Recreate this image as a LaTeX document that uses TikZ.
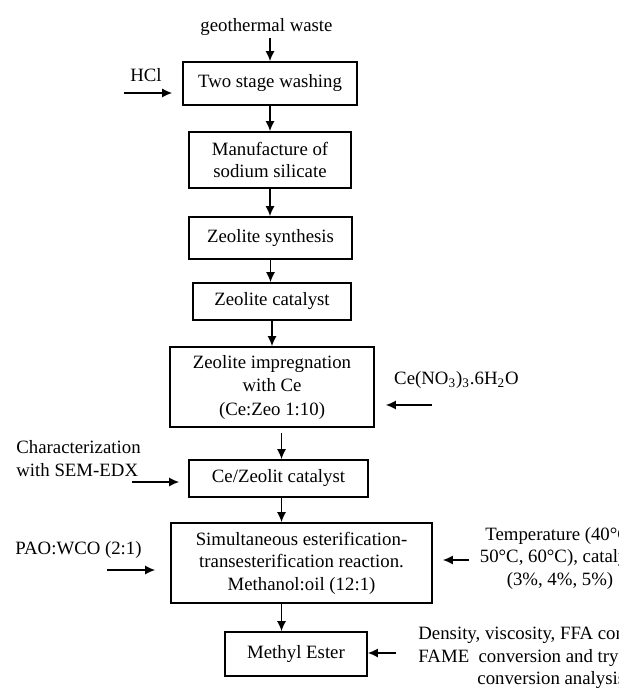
\documentclass[tikz,border=0pt]{standalone}
\usepackage{fontspec}
\setmainfont{Liberation Serif}
\usetikzlibrary{arrows.meta}

\tikzset{
  box/.style={draw, line width=0.8pt, inner sep=0pt, align=center},
  txt/.style={inner sep=1pt, align=center},
  arr/.style={line width=0.75pt, -{Latex[length=5pt,width=4.5pt]}}
}

\begin{document}
\begin{tikzpicture}[x=0.5pt, y=-0.5pt, every node/.style={font=\fontsize{9.4pt}{11.25pt}\selectfont}]
            \useasboundingbox (0,0) rectangle (618,688);
            \clip (0,0) rectangle (618,688);

            % main column
            \node[box, minimum width=87pt, minimum height=21.5pt] (wash) at (270,83.5) {Two stage washing};
            \node[box, minimum width=81pt, minimum height=28pt] (manuf) at (270,160) {Manufacture of\\sodium silicate};
            \node[box, minimum width=81.5pt, minimum height=21pt] (synth) at (270.5,238) {Zeolite synthesis};
            \node[box, minimum width=79pt, minimum height=18.5pt] (zcat) at (272,301.5) {Zeolite catalyst};
            \node[box, minimum width=102pt, minimum height=40pt, font=\fontsize{9.4pt}{11.75pt}\selectfont] (impreg) at (272,387) {Zeolite impregnation\\with Ce\\(Ce:Zeo 1:10)};
            \node[box, minimum width=89.5pt, minimum height=18.5pt] (cezeo) at (278.5,478.5) {Ce/Zeolit catalyst};
            \node[box, minimum width=130.5pt, minimum height=40pt] (react) at (301.5,563) {Simultaneous esterification-\\transesterification reaction.\\Methanol:oil (12:1)};
            \node[box, minimum width=71pt, minimum height=22pt] (ester) at (296,654) {Methyl Ester};

            % inputs and analyses
            \node[txt] (geo) at (266.5,27) {geothermal waste};
            \node[txt] (hcl) at (146,75) {HCl};
            \node[txt] (ceno) at (456.5,380) {Ce(NO\textsubscript{3})\textsubscript{3}.6H\textsubscript{2}O};
            \node[txt, anchor=west, align=left] (charac) at (14,458.5) {Characterization\\with SEM-EDX};
            \node[txt] (pao) at (78.5,550) {PAO:WCO (2:1)};
            \node[txt] (temp) at (560,558) {Temperature (40°C,\\50°C, 60°C), catalyst\\(3\%, 4\%, 5\%)};
            \node[txt, anchor=west, align=left] (dens) at (416,658) {Density, viscosity, FFA content,\\FAME\ \ conversion and tryglyceride\\\hspace*{29.5pt}conversion analysis};

            \coordinate (lx) at (281.5,0);
            \coordinate (hclin) at (124,93);
            \coordinate (cenoin) at (432,405);
            \coordinate (charin) at (132,482);
            \coordinate (paoin) at (107,570);
            \coordinate (tempin) at (469,560);
            \coordinate (densin) at (396,653);

            \draw[arr] (geo.south -| wash.north) -- (wash.north);
            \draw[arr] (wash) -- (manuf);
            \draw[arr] (manuf.south) -- (manuf.south |- synth.north);
            \draw[arr] (synth.south) -- (synth.south |- zcat.north);
            \draw[arr] (zcat) -- (impreg);
            \draw[arr, shorten <=2.5pt] (impreg.south -| lx) -- (cezeo.north -| lx);
            \draw[arr] (cezeo.south -| lx) -- (react.north -| lx);
            \draw[arr] (react.south -| lx) -- (ester.north -| lx);

            \draw[arr, shorten >=5pt] (hclin) -- (hclin -| wash.west);
            \draw[arr, shorten >=5.5pt] (cenoin) -- (cenoin -| impreg.east);
            \draw[arr, shorten >=4.5pt] (charin) -- (charin -| cezeo.west);
            \draw[arr, shorten >=7.5pt] (paoin) -- (paoin -| react.west);
            \draw[arr, shorten >=5pt] (tempin) -- (tempin -| react.east);
            \draw[arr] (densin) -- (densin -| ester.east);
            \end{tikzpicture}
\end{document}
